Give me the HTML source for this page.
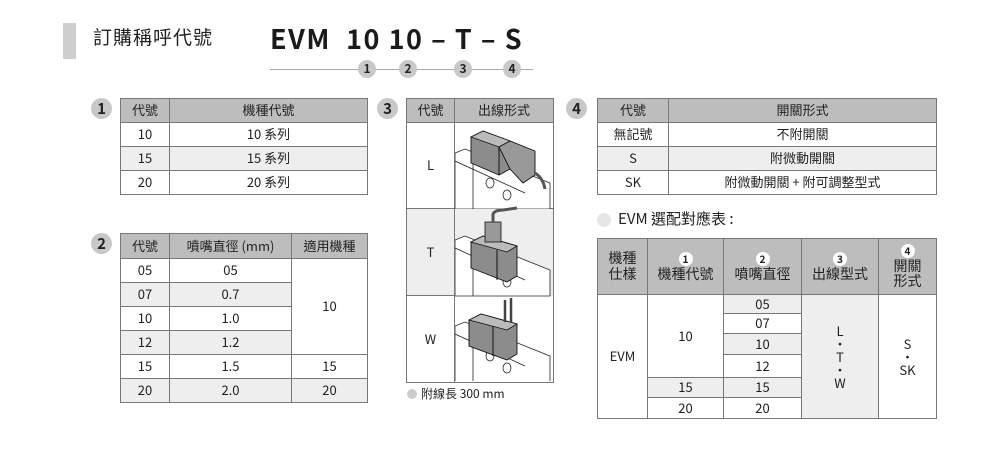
<!DOCTYPE html>
<html><head><meta charset="utf-8"><style>
*{margin:0;padding:0;box-sizing:border-box}
body{width:1000px;height:460px;background:#fff;position:relative;overflow:hidden;font-family:"Noto Sans CJK TC","Liberation Sans",sans-serif;color:#222}
.a{position:absolute}
table{position:absolute;border-collapse:collapse;table-layout:fixed;border:1.5px solid #444}
td{border:1px solid #777;text-align:center;font-size:13px;padding:0;line-height:1.1}
tr.h td{background:#bdbdbd}
.g{background:#eeeeee}
.num{position:absolute;width:21px;height:21px;border-radius:50%;background:#c8c8c8;font-weight:bold;font-size:15px;text-align:center;line-height:21px;color:#222}
.sm{position:absolute;width:18px;height:18px;border-radius:50%;background:#c8c8c8;font-weight:bold;font-size:12px;text-align:center;line-height:18px}
.wc{display:inline-block;width:14px;height:14px;border-radius:50%;background:#fff;font-size:10px;font-weight:bold;line-height:14px}
</style></head><body>
<div class="a" style="left:63px;top:23px;width:13px;height:36px;background:#cfcfcf"></div>
<div class="a" style="left:93px;top:23px;font-size:19px;letter-spacing:1px">訂購稱呼代號</div>
<div class="a" style="left:270px;top:20px;font-size:27px;font-weight:bold;letter-spacing:1.5px;white-space:pre;color:#1a1a1a;line-height:36px">EVM  10 10 – T – S</div>
<div class="a" style="left:270px;top:69px;width:263px;height:1px;background:#aaa"></div>
<div class="sm" style="left:358px;top:60px">1</div>
<div class="sm" style="left:399px;top:60px">2</div>
<div class="sm" style="left:454px;top:60px">3</div>
<div class="sm" style="left:503px;top:60px">4</div>

<div class="num" style="left:91px;top:98px">1</div>
<table style="left:120px;top:98px;width:248px">
<col style="width:49px"><col>
<tr class="h" style="height:24px"><td>代號</td><td>機種代號</td></tr>
<tr style="height:24px"><td>10</td><td>10 系列</td></tr>
<tr class="g" style="height:24px"><td>15</td><td>15 系列</td></tr>
<tr style="height:24px"><td>20</td><td>20 系列</td></tr>
</table>

<div class="num" style="left:91px;top:233px">2</div>
<table style="left:120px;top:233px;width:248px">
<col style="width:49px"><col style="width:122px"><col>
<tr class="h" style="height:25px"><td>代號</td><td>噴嘴直徑 (mm)</td><td>適用機種</td></tr>
<tr style="height:24px"><td>05</td><td>05</td><td rowspan="4">10</td></tr>
<tr class="g" style="height:24px"><td>07</td><td>0.7</td></tr>
<tr style="height:24px"><td>10</td><td>1.0</td></tr>
<tr class="g" style="height:24px"><td>12</td><td>1.2</td></tr>
<tr style="height:24px"><td>15</td><td>1.5</td><td>15</td></tr>
<tr class="g" style="height:24px"><td>20</td><td>2.0</td><td>20</td></tr>
</table>

<div class="num" style="left:377px;top:98px">3</div>
<table style="left:406px;top:98px;width:148px">
<col style="width:48px"><col>
<tr class="h" style="height:24px"><td>代號</td><td>出線形式</td></tr>
<tr style="height:86px"><td>L</td><td></td></tr>
<tr class="g" style="height:87px"><td>T</td><td></td></tr>
<tr style="height:87px"><td>W</td><td></td></tr>
</table>
<svg class="a" style="left:455px;top:123px" width="98" height="258" viewBox="0 0 98 258">
<defs>
<g id="base" fill="#fff" stroke="#222" stroke-width="0.8">
<polygon points="0,30 10,26 95,60 95,86 0,86"/>
<line x1="0" y1="38" x2="70" y2="70"/><line x1="18" y1="40" x2="18" y2="86"/>
<ellipse cx="35" cy="60" rx="4" ry="5"/><ellipse cx="52" cy="72" rx="4" ry="5"/>
</g>
</defs>
<use href="#base"/>
<polygon points="16,14 28,8 55,18 55,46 44,52 16,40" fill="#8c8c8c" stroke="#111" stroke-width="0.9"/>
<polygon points="16,14 28,8 55,18 44,24" fill="#bbb" stroke="#111" stroke-width="0.8"/>
<line x1="44" y1="24" x2="44" y2="52" stroke="#111"/>
<polygon points="44,24 55,18 80,28 80,52 68,60 55,46" fill="#999" stroke="#111" stroke-width="0.9"/>
<path d="M80,50 Q88,55 90,66" fill="none" stroke="#555" stroke-width="3"/>
<rect x="0" y="86" width="98" height="87" fill="#eee"/>
<g transform="translate(0,87)"><use href="#base"/>
<polygon points="16,32 28,26 62,36 62,66 52,72 16,58" fill="#8c8c8c" stroke="#111" stroke-width="0.9"/>
<polygon points="16,32 28,26 62,36 52,42" fill="#bbb" stroke="#111" stroke-width="0.8"/>
<line x1="42" y1="40" x2="42" y2="70" stroke="#111"/>
<rect x="30" y="12" width="16" height="20" fill="#999" stroke="#111" stroke-width="0.8"/>
<path d="M38,12 L38,4 Q40,0 48,0 L62,-2" fill="none" stroke="#555" stroke-width="3"/>
</g>
<g transform="translate(0,173)"><use href="#base"/>
<polygon points="14,24 26,18 62,28 62,58 52,64 14,50" fill="#8c8c8c" stroke="#111" stroke-width="0.9"/>
<polygon points="14,24 26,18 62,28 52,34" fill="#bbb" stroke="#111" stroke-width="0.8"/>
<line x1="38" y1="30" x2="38" y2="60" stroke="#111"/>
<line x1="50" y1="4" x2="50" y2="26" stroke="#444" stroke-width="2.5"/>
<line x1="56" y1="2" x2="56" y2="26" stroke="#444" stroke-width="2.5"/>
</g>
</svg>
<div class="a" style="left:407px;top:385px;font-size:12px"><span style="display:inline-block;width:10px;height:10px;border-radius:50%;background:#ccc;margin-right:4px;vertical-align:-1px"></span>附線長 300 mm</div>

<div class="num" style="left:566px;top:98px">4</div>
<table style="left:597px;top:98px;width:340px">
<col style="width:71px"><col>
<tr class="h" style="height:24px"><td>代號</td><td>開關形式</td></tr>
<tr style="height:24px"><td>無記號</td><td>不附開關</td></tr>
<tr class="g" style="height:24px"><td>S</td><td>附微動開關</td></tr>
<tr style="height:24px"><td>SK</td><td>附微動開關 + 附可調整型式</td></tr>
</table>

<div class="a" style="left:597px;top:213px;width:14px;height:14px;border-radius:50%;background:#e6e6e6"></div>
<div class="a" style="left:618px;top:208px;font-size:15px">EVM 選配對應表 :</div>
<table style="left:597px;top:238px;width:340px">
<col style="width:50px"><col style="width:76px"><col style="width:78px"><col style="width:77px"><col>
<tr class="h" style="height:56px"><td style="font-size:14px">機種<br>仕樣</td><td style="font-size:14px"><span class="wc">1</span><br>機種代號</td><td style="font-size:14px"><span class="wc">2</span><br>噴嘴直徑</td><td style="font-size:14px"><span class="wc">3</span><br>出線型式</td><td style="font-size:14px"><span class="wc">4</span><br>開關<br>形式</td></tr>
<tr style="height:19px"><td rowspan="6">EVM</td><td rowspan="4">10</td><td class="g">05</td><td rowspan="6" class="g" style="line-height:1">L<br>•<br>T<br>•<br>W</td><td rowspan="6" style="line-height:1">S<br>•<br>SK</td></tr>
<tr style="height:20px"><td>07</td></tr>
<tr style="height:21px"><td class="g">10</td></tr>
<tr style="height:23px"><td>12</td></tr>
<tr style="height:20px"><td class="g">15</td><td class="g">15</td></tr>
<tr style="height:21px"><td>20</td><td>20</td></tr>
</table>
</body></html>
